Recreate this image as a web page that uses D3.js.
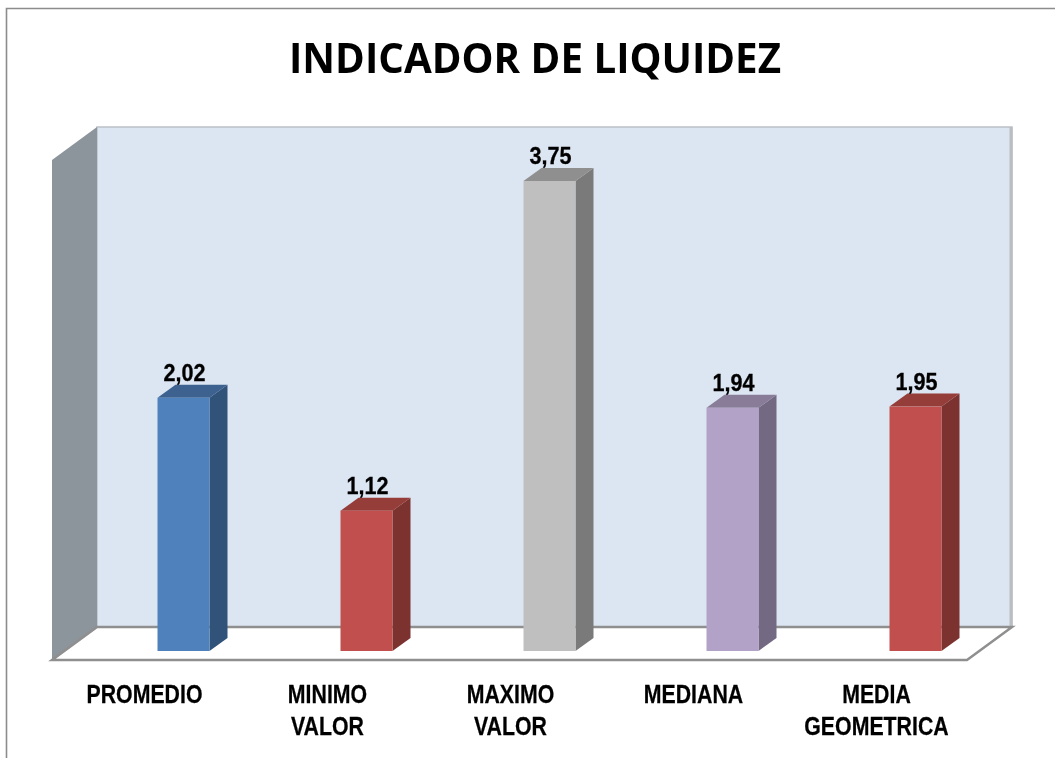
<!DOCTYPE html>
<html><head><meta charset="utf-8">
<script src="https://cdn.jsdelivr.net/npm/d3@7/dist/d3.min.js"></script>
<style>html,body{margin:0;padding:0;background:#fff}svg{display:block}
text{font-family:"Liberation Sans",Arial,sans-serif;font-weight:bold;fill:#000}</style>
</head><body><svg id="c" width="1055" height="758"></svg>
<script>
const categories=[["PROMEDIO"],["MINIMO","VALOR"],["MAXIMO","VALOR"],["MEDIANA"],["MEDIA","GEOMETRICA"]];
const values=[2.02,1.12,3.75,1.94,1.95];
const valueLabels=["2,02","1,12","3,75","1,94","1,95"];
const fronts=["#4f81bd","#c0504d","#bfbfbf","#b3a2c7","#c0504d"];
const tops=["#3c6290","#953c39","#8f8f8f","#887b98","#953c39"];
const sides=["#315279","#7c322f","#7a7a7a","#736982","#7c322f"];

const svg=d3.select("#c");
const defs=svg.append("defs");
defs.append("filter").attr("id","soft").attr("x","-2%").attr("y","-2%").attr("width","104%").attr("height","104%")
  .append("feGaussianBlur").attr("stdDeviation",0.45);
const root=svg.append("g").attr("filter","url(#soft)");

const W=915,dx=45,left=52;
const x=d3.scaleBand().domain(d3.range(5)).range([left,left+W]);
const y=d3.scaleLinear().domain([0,3.75]).range([651,181]);
const barW=52,barOff=40,bdx=18,bdy=13;
const poly=p=>p.map(a=>a.join(",")).join(" ");

// frame
root.append("path").attr("d","M6.5,758V8.5H1060").attr("fill","none").attr("stroke","#8c8c8c").attr("stroke-width",1.6);
// back wall
root.append("rect").attr("x",left+dx).attr("y",127).attr("width",W).attr("height",500)
  .attr("fill","#dce6f2").attr("stroke","#bcc1c7").attr("stroke-width",1.5);
root.append("line").attr("x1",left+dx+W-1).attr("x2",left+dx+W-1).attr("y1",127).attr("y2",627)
  .attr("stroke","#bbbdbf").attr("stroke-width",3);
// left wall
root.append("polygon").attr("points",poly([[left,160],[left+dx,127],[left+dx,627],[left,660]])).attr("fill","#8c949c");
// floor
root.append("polygon").attr("points",poly([[left,660],[left+dx,627],[left+dx+W,627],[left+W,660]]))
  .attr("fill","#fff").attr("stroke","#8f8f8f").attr("stroke-width",2.5);

// bars
const g=root.selectAll("g.bar").data(values).join("g").attr("class","bar");
g.each(function(v,i){
  const s=d3.select(this),x0=x(i)+x.bandwidth()/2+barOff-barW/2,x1=x0+barW,yt=y(v),yb=y(0);
  s.append("polygon").attr("points",poly([[x1,yt],[x1+bdx,yt-bdy],[x1+bdx,yb-bdy],[x1,yb]])).attr("fill",sides[i]);
  s.append("polygon").attr("points",poly([[x0,yt],[x0+bdx,yt-bdy],[x1+bdx,yt-bdy],[x1,yt]])).attr("fill",tops[i]);
  s.append("rect").attr("x",x0).attr("y",yt).attr("width",barW).attr("height",yb-yt).attr("fill",fronts[i]);
  s.append("text").attr("x",(x0+x1)/2+1).attr("y",yt-17).attr("text-anchor","middle")
    .attr("font-size",24).attr("textLength",42).attr("lengthAdjust","spacingAndGlyphs")
    .attr("stroke","#000").attr("stroke-width",0.3).text(valueLabels[i]);
});

// category labels
const lg=root.selectAll("text.cat").data(categories).join("text").attr("class","cat")
  .attr("text-anchor","middle").attr("font-size",26).attr("stroke","#000").attr("stroke-width",0.25);
lg.each(function(lines,i){
  d3.select(this).selectAll("tspan").data(lines).join("tspan")
    .attr("x",x(i)+x.bandwidth()/2+1).attr("y",(d,j)=>703+j*32).text(d=>d);
});
lg.attr("transform",(d,i)=>{const cx=x(i)+x.bandwidth()/2+1;return `translate(${cx},0) scale(0.82,1) translate(${-cx},0)`;});

// title
root.append("text").attr("x",535).attr("y",73).attr("text-anchor","middle").attr("font-size",41)
  .style("font-family","'Open Sans',sans-serif").attr("textLength",492).attr("lengthAdjust","spacingAndGlyphs").text("INDICADOR DE LIQUIDEZ");
</script></body></html>
